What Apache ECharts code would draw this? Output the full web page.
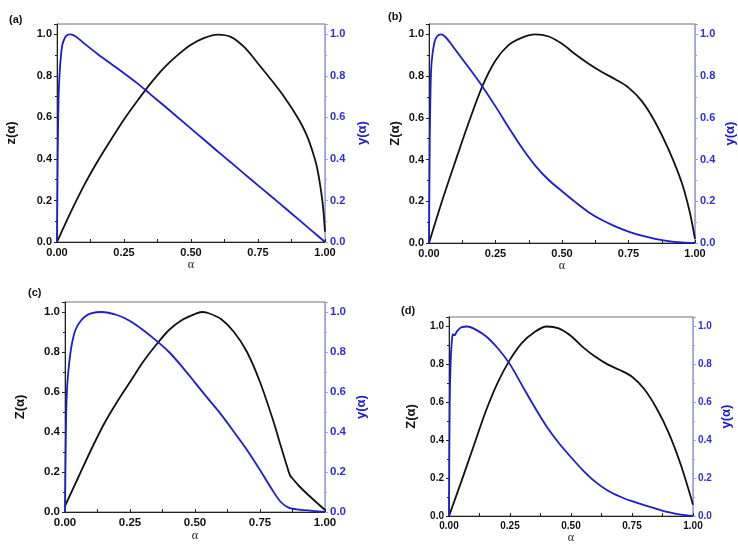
<!DOCTYPE html>
<html>
<head>
<meta charset="utf-8">
<script src="https://cdn.jsdelivr.net/npm/echarts@6/dist/echarts.min.js"></script>
<style>html,body{margin:0;padding:0;background:#fff;}#c{width:738px;height:547px;}</style>
</head>
<body>
<div id="c"></div>
<script>
// Panel (a)
const aZx = [0, 0.05, 0.1, 0.15, 0.2, 0.25, 0.3, 0.35, 0.4, 0.45, 0.5, 0.55, 0.6, 0.65, 0.7, 0.75, 0.8, 0.85, 0.9, 0.93, 0.95, 0.97, 0.99, 1.0];
const aZy = [0, 0.14, 0.27, 0.385, 0.49, 0.59, 0.68, 0.765, 0.84, 0.9, 0.95, 0.983, 0.999, 0.987, 0.937, 0.86, 0.78, 0.695, 0.595, 0.52, 0.45, 0.36, 0.2, 0.05];
const aYx = [0, 0.003, 0.006, 0.01, 0.015, 0.02, 0.03, 0.04, 0.05, 0.07, 0.1, 0.15, 0.2, 0.25, 0.3, 0.35, 0.4, 0.45, 0.5, 0.55, 0.6, 0.65, 0.7, 0.75, 0.8, 0.85, 0.9, 0.95, 1.0];
const aYy = [0, 0.45, 0.7, 0.82, 0.9, 0.95, 0.985, 0.998, 1.0, 0.99, 0.958, 0.907, 0.86, 0.813, 0.764, 0.71, 0.656, 0.601, 0.546, 0.491, 0.436, 0.382, 0.327, 0.273, 0.219, 0.165, 0.11, 0.055, 0.0];
// Panel (b)
const bZx = [0, 0.05, 0.1, 0.15, 0.2, 0.25, 0.3, 0.35, 0.4, 0.45, 0.5, 0.55, 0.6, 0.65, 0.7, 0.75, 0.8, 0.85, 0.9, 0.95, 0.98, 1.0];
const bZy = [0, 0.205, 0.395, 0.58, 0.75, 0.875, 0.95, 0.985, 1.0, 0.99, 0.955, 0.905, 0.86, 0.82, 0.785, 0.745, 0.68, 0.58, 0.45, 0.29, 0.15, 0.02];
const bYx = [0, 0.003, 0.006, 0.01, 0.02, 0.03, 0.045, 0.06, 0.08, 0.1, 0.15, 0.2, 0.25, 0.3, 0.35, 0.4, 0.45, 0.5, 0.55, 0.6, 0.65, 0.7, 0.75, 0.8, 0.85, 0.9, 0.95, 1.0];
const bYy = [0, 0.5, 0.75, 0.87, 0.96, 0.99, 1.0, 0.99, 0.96, 0.925, 0.84, 0.752, 0.655, 0.553, 0.455, 0.37, 0.302, 0.248, 0.196, 0.148, 0.11, 0.08, 0.055, 0.035, 0.02, 0.009, 0.003, 0];
// Panel (c)
const cZx = [0, 0.05, 0.1, 0.15, 0.2, 0.25, 0.3, 0.35, 0.4, 0.45, 0.5, 0.525, 0.55, 0.6, 0.65, 0.7, 0.75, 0.8, 0.83, 0.85, 0.865, 0.88, 0.9, 0.94, 1.0];
const cZy = [0.03, 0.17, 0.31, 0.44, 0.55, 0.65, 0.75, 0.835, 0.91, 0.96, 0.99, 1.0, 0.995, 0.965, 0.9, 0.8, 0.65, 0.46, 0.33, 0.245, 0.185, 0.16, 0.13, 0.08, 0.01];
const cYx = [0, 0.004, 0.008, 0.015, 0.025, 0.04, 0.06, 0.08, 0.1, 0.14, 0.2, 0.25, 0.3, 0.35, 0.4, 0.45, 0.5, 0.55, 0.6, 0.65, 0.7, 0.75, 0.8, 0.83, 0.86, 0.9, 0.95, 1.0];
const cYy = [0, 0.45, 0.62, 0.73, 0.83, 0.91, 0.955, 0.98, 0.993, 1.0, 0.985, 0.955, 0.91, 0.858, 0.8, 0.727, 0.647, 0.567, 0.488, 0.4, 0.31, 0.21, 0.105, 0.05, 0.022, 0.012, 0.006, 0];
// Panel (d)
const dZx = [0, 0.05, 0.1, 0.15, 0.2, 0.25, 0.3, 0.35, 0.4, 0.45, 0.5, 0.55, 0.6, 0.65, 0.7, 0.75, 0.8, 0.85, 0.9, 0.95, 1.0];
const dZy = [0, 0.18, 0.365, 0.55, 0.705, 0.825, 0.915, 0.97, 1.0, 0.99, 0.95, 0.89, 0.84, 0.8, 0.77, 0.735, 0.67, 0.57, 0.44, 0.27, 0.06];
const dYx = [0, 0.003, 0.007, 0.012, 0.016, 0.02, 0.025, 0.03, 0.04, 0.05, 0.075, 0.1, 0.15, 0.2, 0.25, 0.3, 0.35, 0.4, 0.45, 0.5, 0.55, 0.6, 0.65, 0.7, 0.75, 0.8, 0.85, 0.9, 0.95, 1.0];
const dYy = [0, 0.6, 0.82, 0.93, 0.96, 0.955, 0.955, 0.97, 0.985, 0.995, 1.0, 0.99, 0.95, 0.885, 0.8, 0.688, 0.576, 0.472, 0.385, 0.31, 0.24, 0.18, 0.135, 0.103, 0.078, 0.057, 0.038, 0.02, 0.007, 0];

const xTicks = [0, 0.25, 0.5, 0.75, 1.0];
const yTicks = [0, 0.2, 0.4, 0.6, 0.8, 1.0];
const panelLabels = ['(a)', '(b)', '(c)', '(d)'];
const leftNames = ['z(α)', 'Z(α)', 'Z(α)', 'Z(α)'];
const rightName = 'y(α)';
const xName = 'α';

const zip = (xs, ys) => xs.map((x, i) => [x, ys[i]]);
const zData = [zip(aZx, aZy), zip(bZx, bZy), zip(cZx, cZy), zip(dZx, dZy)];
const yData = [zip(aYx, aYy), zip(bYx, bYy), zip(cYx, cYy), zip(dYx, dYy)];

const FONT = 'Liberation Sans, Arial, sans-serif';
const BLUE = '#1c1cd0';
const BLUE_AX = '#9d9dff';
const BLUE_LBL = '#3030d0';

const layout = [
  {left: 57, top: 24, width: 268, height: 218, fs: 11, lg: 39, rg: 31, xg: 16, lab: [4, 9]},
  {left: 429, top: 24, width: 267, height: 219, fs: 11, lg: 27, rg: 29, xg: 17, lab: [383, 6]},
  {left: 65, top: 302, width: 260, height: 210, fs: 11.5, lg: 38, rg: 30, xg: 16, lab: [23, 282]},
  {left: 449, top: 317, width: 244, height: 199, fs: 10, lg: 31, rg: 27, xg: 15, lab: [396, 300]}
];

const grids = [], xAxes = [], yAxes = [], series = [], titles = [];
layout.forEach((L, i) => {
  grids.push({left: L.left, top: L.top, width: L.width, height: L.height, show: true, borderColor: '#707070', borderWidth: 1, backgroundColor: 'transparent'});
  titles.push({text: panelLabels[i], left: L.lab[0], top: L.lab[1], textStyle: {fontFamily: FONT, fontWeight: 'bold', fontSize: 11, color: '#111'}});
  xAxes.push({
    type: 'value', gridIndex: i, min: 0, max: 1, interval: 0.25,
    name: xName, nameLocation: 'middle', nameGap: L.xg,
    nameTextStyle: {fontFamily: 'Liberation Serif, serif', fontSize: 12, color: '#222'},
    axisLine: {show: true, lineStyle: {color: '#222', width: 1}},
    axisTick: {show: true, inside: true, length: 3, lineStyle: {color: '#222'}},
    minorTick: {show: true, splitNumber: 2, length: 3, lineStyle: {color: '#222'}},
    splitLine: {show: false},
    axisLabel: {fontFamily: FONT, fontWeight: 'bold', fontSize: L.fs, color: '#111', margin: 5,
      formatter: v => xTicks.some(t => Math.abs(t - v) < 1e-6) ? v.toFixed(2) : ''}
  });
  yAxes.push({
    type: 'value', gridIndex: i, min: 0, max: 1.05, interval: 0.2, position: 'left',
    name: leftNames[i], nameLocation: 'middle', nameGap: L.lg,
    nameTextStyle: {fontFamily: FONT, fontWeight: 'bold', fontSize: 13, color: '#111'},
    axisLine: {show: true, lineStyle: {color: '#222', width: 1}},
    axisTick: {show: true, length: 3, lineStyle: {color: '#222'}},
    minorTick: {show: true, splitNumber: 2, length: 2, lineStyle: {color: '#222'}},
    splitLine: {show: false},
    axisLabel: {fontFamily: FONT, fontWeight: 'bold', fontSize: L.fs, color: '#111', margin: 5, showMaxLabel: false,
      formatter: v => yTicks.some(t => Math.abs(t - v) < 1e-6) ? v.toFixed(1) : ''}
  });
  yAxes.push({
    type: 'value', gridIndex: i, min: 0, max: 1.05, interval: 0.2, position: 'right',
    name: rightName, nameLocation: 'middle', nameGap: L.rg,
    nameTextStyle: {fontFamily: FONT, fontWeight: 'bold', fontSize: 13, color: BLUE},
    axisLine: {show: true, lineStyle: {color: BLUE_AX, width: 1}},
    axisTick: {show: true, length: 3, lineStyle: {color: BLUE_AX}},
    minorTick: {show: true, splitNumber: 2, length: 2, lineStyle: {color: BLUE_AX}},
    splitLine: {show: false},
    axisLabel: {fontFamily: FONT, fontWeight: 'bold', fontSize: L.fs, color: BLUE_LBL, margin: 5, showMaxLabel: false,
      formatter: v => yTicks.some(t => Math.abs(t - v) < 1e-6) ? v.toFixed(1) : ''}
  });
  series.push({type: 'line', xAxisIndex: i, yAxisIndex: 2 * i, data: zData[i], showSymbol: false, smooth: 0.3, lineStyle: {color: '#111', width: 1.8}, z: 3, silent: true});
  series.push({type: 'line', xAxisIndex: i, yAxisIndex: 2 * i + 1, data: yData[i], showSymbol: false, smooth: 0.3, lineStyle: {color: BLUE, width: 1.8}, z: 4, silent: true});
});

const chart = echarts.init(document.getElementById('c'), null, {renderer: 'canvas'});
chart.setOption({
  animation: false,
  backgroundColor: '#fff',
  title: titles,
  grid: grids,
  xAxis: xAxes,
  yAxis: yAxes,
  series: series
});
</script>
</body>
</html>
